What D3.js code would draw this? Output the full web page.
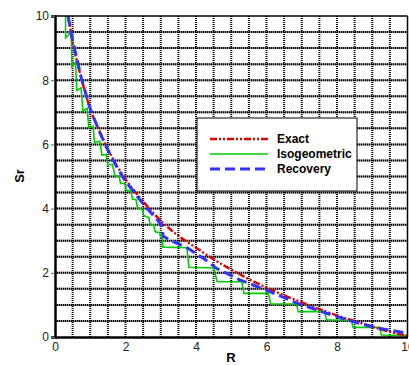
<!DOCTYPE html>
<html><head><meta charset="utf-8">
<script src="https://cdn.jsdelivr.net/npm/d3@7"></script>
<style>body{margin:0;background:#fff}svg{display:block}text{font-family:"Liberation Sans",Arial,sans-serif}</style>
</head><body><svg id="c" width="409" height="365"></svg>
<script>
const exactR  = [0.37,0.5,0.75,1,1.25,1.5,1.75,2,2.5,3,3.5,4,4.5,5,5.5,6,6.5,7,7.5,8,8.5,9,9.5,10];
const exactSr = [10.0,9.2,8.05,7.1,6.45,5.85,5.35,4.92,4.22,3.62,3.15,2.78,2.42,2.1,1.8,1.54,1.3,1.08,0.87,0.67,0.5,0.32,0.16,0.04];
const isoR  = [0.30,0.30,0.46,0.48,0.58,0.62,0.74,0.79,0.91,0.96,1.08,1.12,1.27,1.33,1.45,1.5,1.63,1.7,1.82,1.86,1.98,2.03,2.15,2.2,2.3,2.34,2.48,2.52,2.66,2.7,2.8,2.84,2.96,3.0,3.04,3.06,3.74,3.8,4.5,4.6,5.3,5.36,6.05,6.12,6.85,6.9,7.65,7.7,8.4,8.46,9.2,9.26,10];
const isoSr = [10.0,9.32,9.52,8.42,8.56,7.68,7.76,7.04,7.12,6.52,6.56,6.06,6.1,5.67,5.69,5.36,5.38,5.02,5.0,4.78,4.78,4.56,4.55,4.3,4.28,4.02,3.98,3.78,3.72,3.5,3.48,3.28,3.26,3.12,3.1,2.8,2.78,2.17,2.15,1.72,1.72,1.36,1.36,1.03,1.03,0.79,0.79,0.53,0.53,0.3,0.3,0.06,0.05];
const recR  = [0.37,0.5,0.75,1,1.25,1.5,1.75,2,2.22,2.41,2.6,2.78,3.02,3.07,3.26,3.75,4.34,4.58,5.24,6.0,6.85,7.7,8.45,9.2,10];
const recSr = [10.0,9.25,8.05,7.1,6.42,5.82,5.3,4.85,4.55,4.27,4.02,3.8,3.5,3.14,3.02,2.78,2.35,2.14,1.78,1.46,1.06,0.74,0.48,0.27,0.12];
const xTicks = [0,2,4,6,8,10];
const yTicks = [0,2,4,6,8,10];
const gridVals = d3.range(0.5, 10, 0.5);
const legendLabels = ["Exact","Isogeometric","Recovery"];

const svg = d3.select("#c");
const L=55, R=407.5, T=16, B=337;
const x = d3.scaleLinear().domain([0,10]).range([L,R]);
const y = d3.scaleLinear().domain([0,10]).range([B,T]);

svg.append("defs").append("clipPath").attr("id","clip").append("rect")
  .attr("x",L).attr("y",T).attr("width",R-L).attr("height",B-T);

const g = svg.append("g");
g.selectAll(".hg").data(gridVals).enter().append("line")
  .attr("x1",L).attr("x2",R).attr("y1",d=>y(d)).attr("y2",d=>y(d))
  .attr("stroke","#888").attr("stroke-width",2);
g.selectAll(".hg2").data(gridVals).enter().append("line")
  .attr("x1",L).attr("x2",R).attr("y1",d=>y(d)).attr("y2",d=>y(d))
  .attr("stroke","#000").attr("stroke-width",2).attr("stroke-dasharray","1,1");
g.selectAll(".vg").data(gridVals).enter().append("line")
  .attr("y1",T).attr("y2",B).attr("x1",d=>x(d)).attr("x2",d=>x(d))
  .attr("stroke","#000").attr("stroke-width",2).attr("stroke-dasharray","1,1");

const line = d3.line().x(d=>x(d[0])).y(d=>y(d[1]));
const plot = svg.append("g").attr("clip-path","url(#clip)");
plot.append("path").datum(isoR.map((r,i)=>[r,isoSr[i]])).attr("d",line)
  .attr("fill","none").attr("stroke","#00cc00").attr("stroke-width",1.6);
plot.append("path").datum(exactR.map((r,i)=>[r,exactSr[i]]))
  .attr("d",d3.line().x(d=>x(d[0])).y(d=>y(d[1])).curve(d3.curveMonotoneX))
  .attr("fill","none").attr("stroke","#dd0000").attr("stroke-width",2.4).attr("stroke-dasharray","7,2,2,2,2,2");
plot.append("path").datum(recR.map((r,i)=>[r,recSr[i]])).attr("d",line)
  .attr("fill","none").attr("stroke","#3333ff").attr("stroke-width",3).attr("stroke-dasharray","10,5");

svg.append("line").attr("x1",L).attr("x2",R).attr("y1",T).attr("y2",T).attr("stroke","#000").attr("stroke-width",1.5);
svg.append("line").attr("x1",R).attr("x2",R).attr("y1",T).attr("y2",B).attr("stroke","#000").attr("stroke-width",1.5);

const xa = svg.append("g").attr("transform",`translate(0,${B})`)
  .call(d3.axisBottom(x).tickValues(xTicks).tickSize(0).tickPadding(5).tickFormat(d3.format("d")));
xa.select(".domain").attr("stroke","#000").attr("stroke-width",2.5);
xa.selectAll("text").attr("font-size",12).attr("fill","#222");
const ya = svg.append("g").attr("transform",`translate(${L},0)`)
  .call(d3.axisLeft(y).tickValues(yTicks).tickSize(4).tickPadding(2).tickFormat(d3.format("d")));
ya.select(".domain").attr("stroke","#000").attr("stroke-width",2.5);
ya.selectAll(".tick line").attr("stroke","#666");
ya.selectAll("text").attr("font-size",12).attr("fill","#222");

svg.append("text").attr("x",231).attr("y",362).attr("text-anchor","middle")
  .attr("font-size",13).attr("font-weight","bold").text("R");
svg.append("text").attr("transform","translate(24,176) rotate(-90)").attr("text-anchor","middle")
  .attr("font-size",13).attr("font-weight","bold").text("Sr");

const lg = svg.append("g");
lg.append("rect").attr("x",197).attr("y",118).attr("width",160).attr("height",73)
  .attr("fill","#fff").attr("stroke","#000").attr("stroke-width",1);
const styles = [
  {c:"#dd0000",w:2.4,da:"7,2,2,2,2,2"},
  {c:"#00cc00",w:1.6,da:null},
  {c:"#3333ff",w:3,da:"10,5"}
];
legendLabels.forEach((lab,i)=>{
  const yy = 139 + i*15;
  lg.append("line").attr("x1",210).attr("x2",268).attr("y1",yy).attr("y2",yy)
    .attr("stroke",styles[i].c).attr("stroke-width",styles[i].w)
    .attr("stroke-dasharray",styles[i].da);
  lg.append("text").attr("x",277).attr("y",yy+4).attr("font-size",12).attr("font-weight","bold").text(lab);
});
</script></body></html>
